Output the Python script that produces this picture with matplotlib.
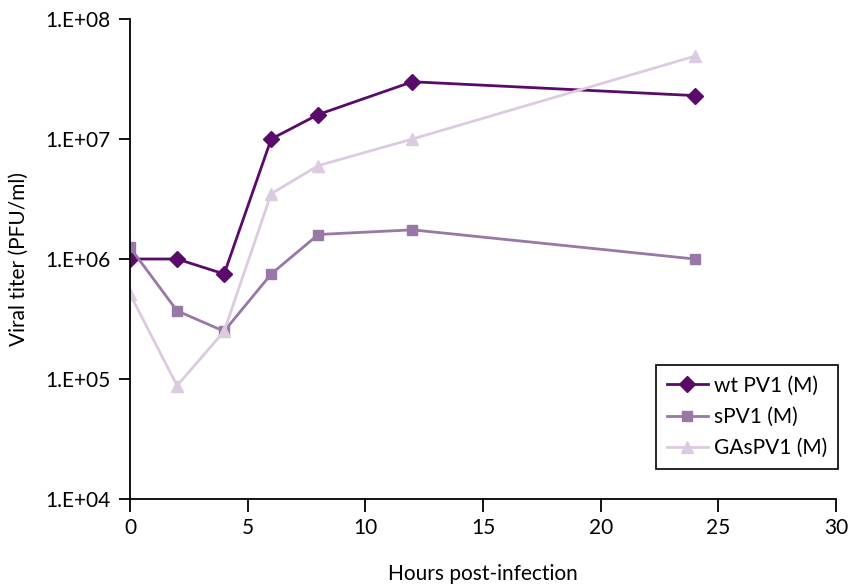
import matplotlib
matplotlib.use("Agg")
import matplotlib.pyplot as plt
from matplotlib.ticker import FixedLocator, FixedFormatter

hours = [0, 2, 4, 6, 8, 12, 24]
wt_pv1 = [1.0e6, 1.0e6, 7.5e5, 1.0e7, 1.6e7, 3.0e7, 2.3e7]
s_pv1 = [1.25e6, 3.7e5, 2.5e5, 7.5e5, 1.6e6, 1.75e6, 1.0e6]
gas_pv1 = [5.1e5, 8.8e4, 2.5e5, 3.5e6, 6.0e6, 1.0e7, 4.9e7]

y_ticks = [1e4, 1e5, 1e6, 1e7, 1e8]
y_labels = ["1.E+04", "1.E+05", "1.E+06", "1.E+07", "1.E+08"]
x_ticks = [0, 5, 10, 15, 20, 25, 30]

plt.rcParams['font.family'] = ['Lato', 'DejaVu Sans']

fig = plt.figure(figsize=(8.48, 5.88), dpi=100)
ax = fig.add_axes([130/848, 1 - 499/588, 706/848, 480/588])

ax.plot(hours, wt_pv1, color="#5a0a6b", marker="D", markersize=8, lw=2, label="wt PV1 (M)")
ax.plot(hours, s_pv1, color="#9878a6", marker="s", markersize=7, lw=2, label="sPV1 (M)")
ax.plot(hours, gas_pv1, color="#dccbe0", marker="^", markersize=9, lw=2, label="GAsPV1 (M)")

ax.set_yscale("log")
ax.set_ylim(1e4, 1e8)
ax.set_xlim(0, 30)
ax.yaxis.set_major_locator(FixedLocator(y_ticks))
ax.yaxis.set_major_formatter(FixedFormatter(y_labels))
ax.yaxis.set_minor_locator(FixedLocator([]))
ax.set_xticks(x_ticks)

for s in ["top", "right"]:
    ax.spines[s].set_visible(False)
for s in ["left", "bottom"]:
    ax.spines[s].set_linewidth(1.3)

ax.tick_params(axis="y", direction="out", length=8, width=1.3, labelsize=15, pad=6)
ax.tick_params(axis="x", direction="out", length=9, width=1.3, labelsize=15, pad=5)

ax.set_xlabel("Hours post-infection", fontsize=15)
ax.xaxis.set_label_coords(0.5, -0.136)
ax.set_ylabel("Viral titer (PFU/ml)", fontsize=15, labelpad=12)

leg = ax.legend(loc="lower right", bbox_to_anchor=(1.003, 0.063), fontsize=15,
                frameon=True, fancybox=False, edgecolor="black", framealpha=1,
                handlelength=2.0, borderpad=0.5, labelspacing=0.55,
                handletextpad=0.3, borderaxespad=0)
leg.get_frame().set_linewidth(1.2)

fig.savefig("out.png", dpi=100)
